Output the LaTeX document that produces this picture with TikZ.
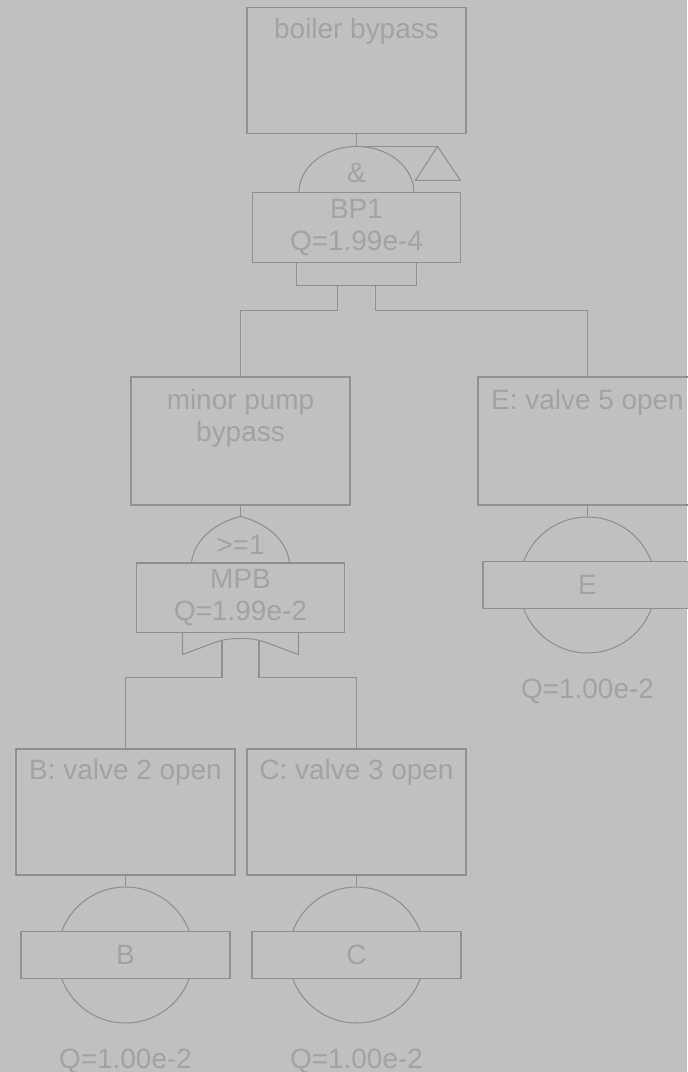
\documentclass[tikz,border=0pt]{standalone}
\usepackage{fontspec}
\setmainfont{Liberation Sans}
\usetikzlibrary{positioning}
\definecolor{ftback}{RGB}{192,192,192}
\definecolor{ftline}{RGB}{146,146,146}
\definecolor{fttext}{RGB}{164,164,164}

\begin{document}
\begin{tikzpicture}[
  x=0.02cm, y=-0.02cm,
  font={\fontsize{15.9}{18.7}\selectfont},
  line/.style={draw=ftline, line width=0.6pt},
  event/.style={rectangle, line, minimum width=4.38cm, minimum height=2.52cm},
  title/.style={anchor=north, inner sep=0pt, text=fttext, align=center},
  gatebox/.style={rectangle, line, minimum width=4.16cm, minimum height=1.38cm,
                  align=center, text=fttext},
  basic/.style={circle, line, minimum size=2.72cm, inner sep=0pt},
  basictag/.style={rectangle, line, fill=ftback, minimum width=4.18cm,
                   minimum height=0.94cm, text=fttext},
  prob/.style={text=fttext, inner sep=0pt}
]
\useasboundingbox (0,0) rectangle (687,1072);
\fill[ftback] (0,0) rectangle (687,1072);

% --- Events ---
\node[event] (top) at (356.5,70.5) {};
\node[title] (toptxt) at ([yshift=-0.22cm]top.north) {boiler bypass};
\node[event, minimum height=2.56cm] (mpbev) at (240.5,441) {};
\node[title] (mpbtxt) at ([yshift=-0.24cm]mpbev.north) {minor pump\\bypass};
\node[event, minimum height=2.56cm] (eev) at (587.5,441) {};
\node[title] (etxt) at ([yshift=-0.24cm]eev.north) {E: valve 5 open};
\node[event] (bev) at (125.5,812) {};
\node[title] (btxt) at ([yshift=-0.2cm]bev.north) {B: valve 2 open};
\node[event] (cev) at (356.5,812) {};
\node[title] (ctxt) at ([yshift=-0.2cm]cev.north) {C: valve 3 open};

% --- Gates ---
\node[gatebox] (bp1) at (356.5,227.5) {BP1\\Q=1.99e-4};
\node[gatebox] (mpb) at (240.5,597.5) {MPB\\Q=1.99e-2};

% AND gate
\draw[line] ([xshift=-1.15cm]bp1.north) arc[start angle=180, end angle=0,
  x radius=1.15cm, y radius=0.92cm];
\node[prob] (andsym) at ([yshift=0.38cm]bp1.north) {\&};
\draw[line] ([xshift=-1.2cm]bp1.south) rectangle ([xshift=1.2cm,yshift=-0.46cm]bp1.south);
\coordinate (bp1top) at ([yshift=0.92cm]bp1.north);
\coordinate (bp1a) at ([xshift=-0.38cm,yshift=-0.46cm]bp1.south);
\coordinate (bp1b) at ([xshift=0.38cm,yshift=-0.46cm]bp1.south);
\coordinate (xfer) at ([xshift=1.62cm]bp1top);

% OR gate
\draw[line, shift={(mpb.north)}] (-49,0) .. controls (-46,-24) and (-24,-40) .. (0,-46)
  .. controls (24,-40) and (46,-24) .. (49,0);
\node[prob] (orsym) at ([yshift=0.36cm]mpb.north) {>=1};
\draw[line, shift={(mpb.south)}] (-58,0) -- (-58,22) -- (-26,10)
  .. controls (-14,6) and (-8,6) .. (0,6) .. controls (8,6) and (14,6) .. (26,10)
  -- (58,22) -- (58,0);
\coordinate (mpbtop) at ([yshift=0.92cm]mpb.north);
\coordinate (mpba) at ([xshift=-0.37cm,yshift=-0.16cm]mpb.south);
\coordinate (mpbb) at ([xshift=0.37cm,yshift=-0.16cm]mpb.south);

% --- Basic events ---
\node[basic] (be) at (125.5,955) {};
\node[basictag] (betag) at (be) {B};
\node[prob, below=0.5cm of be] (bq) {Q=1.00e-2};
\node[basic] (ce) at (356.5,955) {};
\node[basictag] (cetag) at (ce) {C};
\node[prob, below=0.5cm of ce] (cq) {Q=1.00e-2};
\node[basic] (ee) at (587.5,585) {};
\node[basictag] (eetag) at (ee) {E};
\node[prob, below=0.5cm of ee] (eq) {Q=1.00e-2};

% --- Connectors ---
\draw[line] (top.south) -- (bp1top) -- (xfer);
\draw[line] (xfer) -- ++(-22,34) -- ++(45,0) -- cycle;
\draw[line] (bp1a) -- ++(0,25) -| (mpbev.north);
\draw[line] (bp1b) -- ++(0,25) -| (eev.north);
\draw[line] (mpbev.south) -- (mpbtop);
\draw[line] (mpba) -- ++(0,37) -| (bev.north);
\draw[line] (mpbb) -- ++(0,37) -| (cev.north);
\draw[line] (bev.south) -- (be);
\draw[line] (cev.south) -- (ce);
\draw[line] (eev.south) -- (ee);

\end{tikzpicture}
\end{document}
